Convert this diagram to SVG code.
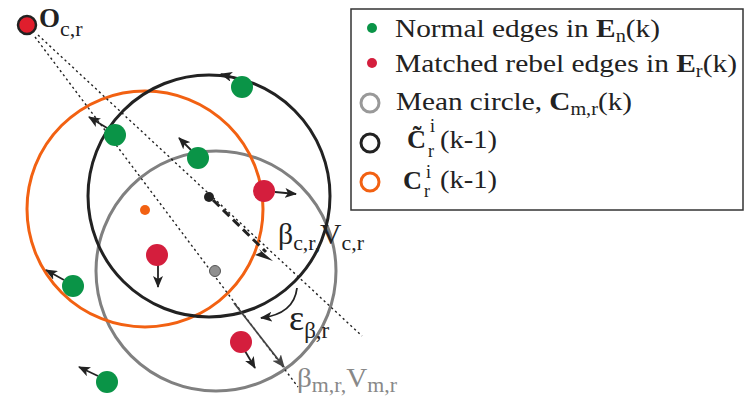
<svg xmlns="http://www.w3.org/2000/svg" width="748" height="397" viewBox="0 0 748 397">
<defs>
<style>
.t{font-family:"Liberation Serif","Times New Roman",serif;fill:#222}
.lg{font-size:26px}
.b{font-weight:bold}
.sub{font-size:18px}
.dot{stroke:#222;stroke-width:1.4;stroke-dasharray:2.2 3;fill:none}
.arr{stroke:#222;stroke-width:1.8;fill:none;marker-end:url(#ah)}
.gr{fill:#0a9447}
.rd{fill:#d41e3d}
</style>
<marker id="ah" viewBox="0 0 12 10" refX="11" refY="5" markerWidth="12" markerHeight="10" markerUnits="userSpaceOnUse" orient="auto">
<path d="M0,0 L12,5 L0,10 L3,5 z" fill="#222"/>
</marker>
<marker id="ahg" viewBox="0 0 12 10" refX="11" refY="5" markerWidth="13" markerHeight="11" markerUnits="userSpaceOnUse" orient="auto">
<path d="M0,0 L12,5 L0,10 L3,5 z" fill="#444"/>
</marker>
</defs>
<rect width="748" height="397" fill="#fff"/>

<g id="circle-mean"><circle cx="216" cy="271" r="120" fill="none" stroke="#808080" stroke-width="3"/></g>
<g id="circle-orange"><circle cx="145" cy="209" r="118" fill="none" stroke="#f26112" stroke-width="3"/></g>
<g id="circle-black"><circle cx="209" cy="196" r="121" fill="none" stroke="#222" stroke-width="3"/></g>

<g id="connectors">
<line class="dot" x1="38" y1="35" x2="362" y2="336"/>
<line class="dot" x1="35" y1="37" x2="298" y2="387"/>
<line x1="213" y1="200" x2="266" y2="252" stroke="#222" stroke-width="3" stroke-dasharray="9 5"/>
<path d="M259,249 L273,261 L255,255 L261,252 z" fill="#222"/>
<line x1="234" y1="303" x2="284" y2="367" stroke="#444" stroke-width="1.8" marker-end="url(#ahg)"/>
<path d="M297,288 Q294,314 261,318" class="arr"/>
<line class="arr" x1="236" y1="78" x2="221" y2="74"/>
<line class="arr" x1="107" y1="128" x2="89" y2="117"/>
<line class="arr" x1="191" y1="150" x2="179" y2="138"/>
<line class="arr" x1="64" y1="280" x2="46" y2="270"/>
<line class="arr" x1="98" y1="376" x2="79" y2="367"/>
<line class="arr" x1="275" y1="192" x2="296" y2="194"/>
<line class="arr" x1="158" y1="264" x2="158" y2="287"/>
<line class="arr" x1="245" y1="351" x2="255" y2="368"/>
</g>

<g id="origin">
<circle cx="27" cy="25" r="9" fill="#e01e2d" stroke="#222" stroke-width="2.5"/>
<text class="t" x="39" y="27" font-size="27"><tspan class="b">O</tspan><tspan font-size="22" dy="9">c,r</tspan></text>
</g>

<g id="center-black"><circle cx="209" cy="197" r="5" fill="#222"/></g>
<g id="center-orange"><circle cx="145" cy="210" r="5" fill="#f26112"/></g>
<g id="center-mean"><circle cx="215" cy="271" r="5.5" fill="#909090" stroke="#555" stroke-width="1"/></g>

<g id="normal-edges">
<circle class="gr" cx="242" cy="87" r="11"/>
<circle class="gr" cx="115" cy="135" r="11"/>
<circle class="gr" cx="198" cy="158" r="11"/>
<circle class="gr" cx="73" cy="286" r="11"/>
<circle class="gr" cx="107" cy="382" r="11"/>
</g>
<g id="rebel-edges">
<circle class="rd" cx="264" cy="191" r="11"/>
<circle class="rd" cx="157" cy="255" r="11"/>
<circle class="rd" cx="241" cy="342" r="11"/>
</g>

<g id="label-beta-c">
<text class="t" x="278" y="244" font-size="30" textLength="86" lengthAdjust="spacingAndGlyphs">β<tspan font-size="22" dy="6">c,r,</tspan><tspan font-size="30" dy="-6">V</tspan><tspan font-size="22" dy="6">c,r</tspan></text>
</g>
<g id="label-eps">
<text class="t" x="289" y="330" font-size="36">ε<tspan font-size="23" dy="8">β,r</tspan></text>
</g>
<g id="label-beta-m">
<text class="t" x="297" y="387" font-size="28" style="fill:#888" textLength="100" lengthAdjust="spacingAndGlyphs">β<tspan font-size="21" dy="5">m,r,</tspan><tspan font-size="28" dy="-5">V</tspan><tspan font-size="21" dy="5">m,r</tspan></text>
</g>

<g id="legend">
<rect x="351" y="9" width="392" height="201" fill="#fff" stroke="#333" stroke-width="1.5"/>
<circle cx="372" cy="28" r="5" class="gr"/>
<text class="t lg" x="395" y="37" textLength="265" lengthAdjust="spacingAndGlyphs">Normal edges in <tspan class="b">E</tspan><tspan class="sub" dy="5">n</tspan><tspan dy="-5">(k)</tspan></text>
<circle cx="372" cy="63" r="5" class="rd"/>
<text class="t lg" x="395" y="72" textLength="342" lengthAdjust="spacingAndGlyphs">Matched rebel edges in <tspan class="b">E</tspan><tspan class="sub" dy="5">r</tspan><tspan dy="-5">(k)</tspan></text>
<circle cx="370" cy="103" r="9" fill="none" stroke="#999" stroke-width="3"/>
<text class="t lg" x="396" y="110" textLength="236" lengthAdjust="spacingAndGlyphs">Mean circle, <tspan class="b">C</tspan><tspan class="sub" dy="5">m,r</tspan><tspan dy="-5">(k)</tspan></text>
<circle cx="370" cy="143" r="9" fill="none" stroke="#222" stroke-width="3"/>
<text class="t lg b" x="407" y="148" textLength="19" lengthAdjust="spacingAndGlyphs">C̃</text>
<text class="t sub" x="430" y="132">i</text>
<text class="t sub" x="428" y="157">r</text>
<text class="t lg" x="440" y="148" textLength="57" lengthAdjust="spacingAndGlyphs">(k-1)</text>
<circle cx="370" cy="182" r="9" fill="none" stroke="#f26112" stroke-width="3"/>
<text class="t lg b" x="403" y="189" textLength="19" lengthAdjust="spacingAndGlyphs">C</text>
<text class="t sub" x="426" y="178">i</text>
<text class="t sub" x="424" y="197">r</text>
<text class="t lg" x="440" y="188" textLength="57" lengthAdjust="spacingAndGlyphs">(k-1)</text>
</g>
</svg>
